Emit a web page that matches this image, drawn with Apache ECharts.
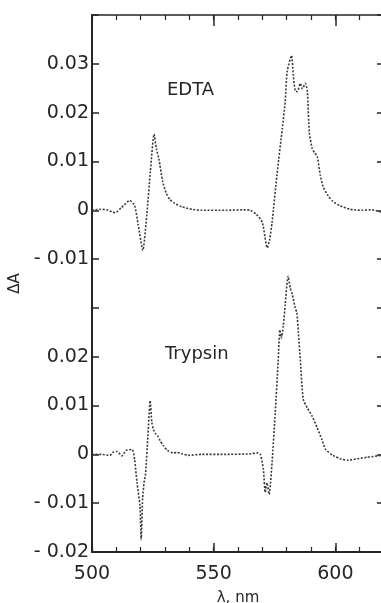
<!DOCTYPE html>
<html>
<head>
<meta charset="utf-8">
<script src="https://cdn.jsdelivr.net/npm/echarts@6/dist/echarts.min.js"></script>
<style>
html,body{margin:0;padding:0;background:#fff;}
#chart{width:381px;height:603px;}
</style>
</head>
<body>
<div id="chart"></div>
<script>
// ---- data (ΔA vs wavelength, nm) ----
var edtaNm = [500, 503, 506, 509.5, 512, 515.5, 517.5, 519, 520.9, 522.5, 524, 525.5, 526.5, 527.5, 529, 530.5, 532, 534, 537, 541, 545, 555, 562, 565, 567.5, 570, 572, 573, 574, 576, 578.2, 579.4, 580.2, 582, 582.7, 583.5, 584.4, 585.6, 586.4, 587.7, 588.5, 589.3, 590.5, 591.5, 592.6, 593.8, 595, 597, 599, 602, 606, 611, 615, 619];
var edtaDA = [0, 0.0002, 0.0001, -0.0005, 0.0005, 0.002, 0.001, -0.003, -0.0082, -0.001, 0.008, 0.0156, 0.0125, 0.0105, 0.006, 0.0035, 0.0022, 0.0014, 0.0007, 0.0002, 0, 0, 0.0001, 0, -0.0008, -0.0025, -0.0077, -0.006, -0.0025, 0.0072, 0.0167, 0.0222, 0.0284, 0.0317, 0.0278, 0.0245, 0.0243, 0.026, 0.0249, 0.026, 0.0243, 0.016, 0.0126, 0.0118, 0.011, 0.0072, 0.0048, 0.003, 0.0018, 0.0009, 0.0002, 0, 0.0001, -0.0004];

var trypNm = [500, 504, 507.4, 508.5, 510.3, 512.3, 514, 516.5, 517.5, 518.5, 519.7, 520.2, 520.8, 521.4, 522, 523, 523.9, 524.6, 525.3, 526.2, 527, 528, 529.3, 531, 533.4, 535, 537, 539.5, 545, 555, 565, 568, 569.2, 570.4, 571.2, 571.9, 572.8, 574, 575.3, 576.5, 577.2, 577.8, 578.6, 579.4, 580.6, 581.5, 582.3, 583.5, 584.2, 584.8, 585.6, 586.8, 588.5, 590.5, 592.5, 594.5, 596, 599, 602, 605, 609, 613, 619];
var trypDA = [0, 0, -0.0002, 0.0004, 0.0006, -0.0003, 0.0008, 0.001, -0.001, -0.0058, -0.0105, -0.0175, -0.009, -0.0058, -0.004, 0.004, 0.011, 0.0065, 0.005, 0.0042, 0.0038, 0.0028, 0.0018, 0.0008, 0.0003, 0.0004, 0.0001, -0.0002, 0, 0, 0.0001, 0.0003, 0, -0.003, -0.0078, -0.0058, -0.0082, -0.0016, 0.0086, 0.019, 0.0255, 0.0238, 0.0262, 0.0307, 0.0365, 0.034, 0.0328, 0.03, 0.029, 0.025, 0.0195, 0.0113, 0.0095, 0.0078, 0.0055, 0.003, 0.001, -0.0002, -0.0009, -0.0012, -0.0009, -0.0006, -0.0002];

// vertical offset of the EDTA trace on the shared ΔA axis
var edtaOffset = 0.05;

var xTickLabels = ['500', '550', '600'];
var yTickLabels = ['- 0.02', '- 0.01', '0', '0.01', '0.02', '', '- 0.01', '0', '0.01', '0.02', '0.03', ''];
var traceNames = ['EDTA', 'Trypsin'];

var yMin = -0.02, yMax = 0.09, yStep = 0.01;

function pairs(xs, ys, off) {
  return xs.map(function (x, i) { return [x, ys[i] + off]; });
}

var ink = '#262626';
var font = 'DejaVu Sans';

var chart = echarts.init(document.getElementById('chart'), null, {renderer: 'canvas'});

var baseX = {
  type: 'value', min: 500, max: 620, gridIndex: 0,
  splitLine: {show: false},
  axisLine: {onZero: false, show: false}
};

chart.setOption({
  animation: false,
  backgroundColor: '#fff',
  grid: {left: 92, top: 15, width: 292, height: 537, containLabel: false, outerBoundsMode: 'none'},
  xAxis: [
    Object.assign({}, baseX, {
      position: 'bottom', interval: 50,
      axisLine: {show: true, onZero: false, lineStyle: {color: ink, width: 2}},
      axisTick: {inside: true, length: 9, lineStyle: {color: ink, width: 1.5}},
      axisLabel: {
        color: ink, fontFamily: font, fontSize: 19, margin: 13,
        formatter: function (v) {
          var i = Math.round((v - 500) / 50);
          return (Math.abs(v - (500 + i * 50)) < 1e-6 && i < xTickLabels.length) ? xTickLabels[i] : '';
        }
      },
      name: 'λ, nm', nameLocation: 'middle', nameGap: 39,
      nameTextStyle: {color: ink, fontFamily: font, fontSize: 15}
    }),
    Object.assign({}, baseX, {
      position: 'bottom', interval: 10,
      axisTick: {inside: true, length: 5, lineStyle: {color: ink, width: 1.2}},
      axisLabel: {show: false}
    }),
    Object.assign({}, baseX, {
      position: 'top', interval: 50,
      axisLine: {show: true, onZero: false, lineStyle: {color: ink, width: 1.5}},
      axisTick: {inside: true, length: 11, lineStyle: {color: ink, width: 1.5}},
      axisLabel: {show: false}
    }),
    Object.assign({}, baseX, {
      position: 'top', interval: 10,
      axisTick: {inside: true, length: 5, lineStyle: {color: ink, width: 1.2}},
      axisLabel: {show: false}
    })
  ],
  yAxis: [
    {
      type: 'value', min: yMin, max: yMax, interval: yStep, position: 'left',
      splitLine: {show: false},
      axisLine: {show: true, onZero: false, lineStyle: {color: ink, width: 2}},
      axisTick: {inside: true, length: 7, lineStyle: {color: ink, width: 1.5}},
      axisLabel: {
        color: ink, fontFamily: font, fontSize: 19, margin: 3,
        formatter: function (v) {
          var i = Math.round((v - yMin) / yStep);
          return yTickLabels[i] !== undefined ? yTickLabels[i] : '';
        }
      },
      name: 'ΔA', nameLocation: 'middle', nameGap: 68, nameRotate: 90,
      nameTextStyle: {color: ink, fontFamily: font, fontSize: 15}
    },
    {
      type: 'value', min: yMin, max: yMax, interval: yStep, position: 'right',
      splitLine: {show: false},
      axisLine: {show: false, onZero: false},
      axisTick: {inside: true, length: 7, lineStyle: {color: ink, width: 1.5}},
      axisLabel: {show: false}
    }
  ],
  series: [
    {
      name: traceNames[0], type: 'line', xAxisIndex: 0, yAxisIndex: 0,
      data: pairs(edtaNm, edtaDA, edtaOffset),
      showSymbol: false, smooth: 0.2,
      lineStyle: {color: '#3a3a3a', width: 1.6, type: [2, 1.6]}
    },
    {
      name: traceNames[1], type: 'line', xAxisIndex: 0, yAxisIndex: 0,
      data: pairs(trypNm, trypDA, 0),
      showSymbol: false, smooth: 0.2,
      lineStyle: {color: '#3a3a3a', width: 1.6, type: [2, 1.6]}
    }
  ],
  graphic: [
    {type: 'text', left: 167, top: 81, style: {text: traceNames[0], fill: ink, font: '18px "DejaVu Sans"'}},
    {type: 'text', left: 165, top: 345, style: {text: traceNames[1], fill: ink, font: '18px "DejaVu Sans"'}}
  ]
});
</script>
</body>
</html>
